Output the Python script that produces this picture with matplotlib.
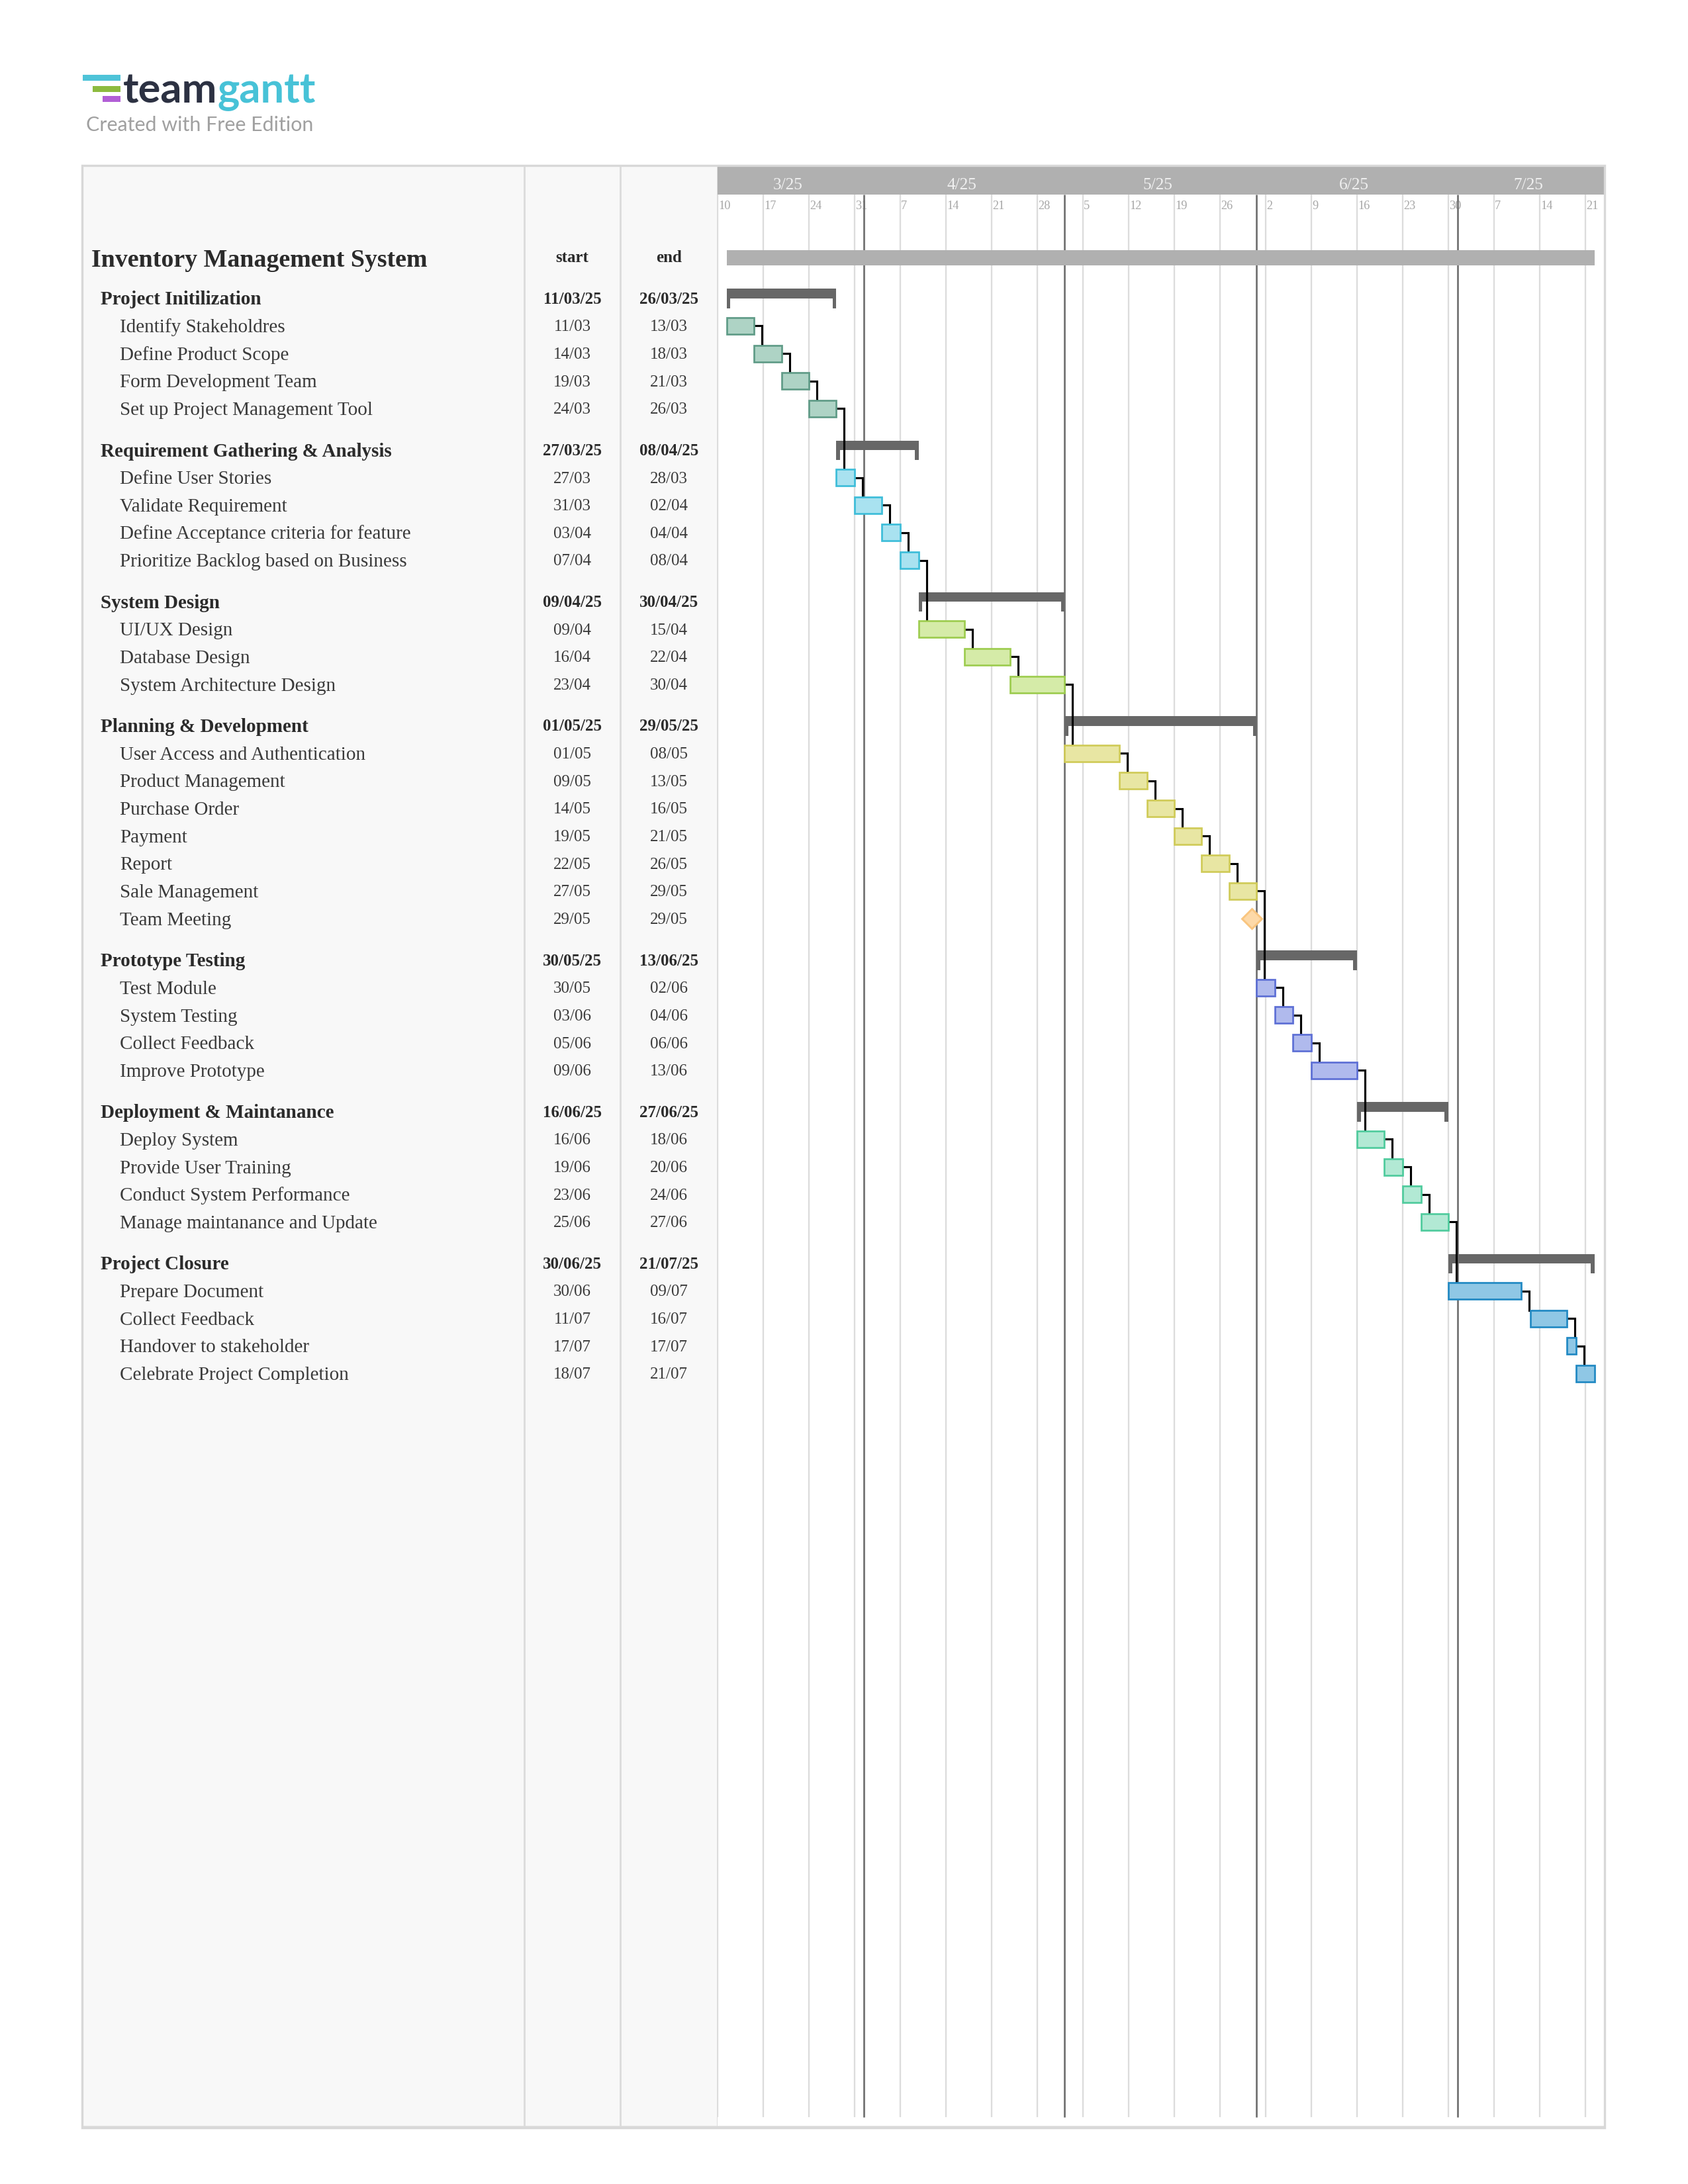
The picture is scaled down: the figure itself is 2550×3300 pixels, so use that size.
import numpy as np
import pandas as pd
import matplotlib
matplotlib.use("Agg")
import matplotlib.pyplot as plt
from matplotlib.patches import Rectangle


FIG_W, FIG_H = 2550, 3300
SERIF = "Liberation Serif"

PROJECT_TITLE = "Inventory Management System"
CHART_START = "2025-03-10"
CHART_WORKDAYS = 97.1

GROUP_NAMES = [
    "Project Initilization",
    "Requirement Gathering & Analysis",
    "System Design",
    "Planning & Development",
    "Prototype Testing",
    "Deployment & Maintanance",
    "Project Closure",
]
GROUP_STARTS = ["2025-03-11", "2025-03-27", "2025-04-09", "2025-05-01", "2025-05-30", "2025-06-16", "2025-06-30"]
GROUP_ENDS = ["2025-03-26", "2025-04-08", "2025-04-30", "2025-05-29", "2025-06-13", "2025-06-27", "2025-07-21"]
GROUP_FILLS = ["#aed3c5", "#a9e2f0", "#d5eba8", "#e8e6a3", "#b0baed", "#b2e9d4", "#8fc7e5"]
GROUP_EDGES = ["#5f9b87", "#3dbdd9", "#9dcc4f", "#d0cb58", "#5d6fd5", "#4fcb9d", "#2189c3"]

TASK_GROUP = [0, 0, 0, 0, 1, 1, 1, 1, 2, 2, 2, 3, 3, 3, 3, 3, 3, 3, 4, 4, 4, 4, 5, 5, 5, 5, 6, 6, 6, 6]
TASK_NAMES = [
    "Identify Stakeholdres",
    "Define Product Scope",
    "Form Development Team",
    "Set up Project Management Tool",
    "Define User Stories",
    "Validate Requirement",
    "Define Acceptance criteria for feature",
    "Prioritize Backlog based on Business",
    "UI/UX Design",
    "Database Design",
    "System Architecture Design",
    "User Access and Authentication",
    "Product Management",
    "Purchase Order",
    "Payment",
    "Report",
    "Sale Management",
    "Team Meeting",
    "Test Module",
    "System Testing",
    "Collect Feedback",
    "Improve Prototype",
    "Deploy System",
    "Provide User Training",
    "Conduct System Performance",
    "Manage maintanance and Update",
    "Prepare Document",
    "Collect Feedback",
    "Handover to stakeholder",
    "Celebrate Project Completion",
]
TASK_STARTS = [
    "2025-03-11", "2025-03-14", "2025-03-19", "2025-03-24",
    "2025-03-27", "2025-03-31", "2025-04-03", "2025-04-07",
    "2025-04-09", "2025-04-16", "2025-04-23",
    "2025-05-01", "2025-05-09", "2025-05-14", "2025-05-19", "2025-05-22", "2025-05-27", "2025-05-29",
    "2025-05-30", "2025-06-03", "2025-06-05", "2025-06-09",
    "2025-06-16", "2025-06-19", "2025-06-23", "2025-06-25",
    "2025-06-30", "2025-07-11", "2025-07-17", "2025-07-18",
]
TASK_ENDS = [
    "2025-03-13", "2025-03-18", "2025-03-21", "2025-03-26",
    "2025-03-28", "2025-04-02", "2025-04-04", "2025-04-08",
    "2025-04-15", "2025-04-22", "2025-04-30",
    "2025-05-08", "2025-05-13", "2025-05-16", "2025-05-21", "2025-05-26", "2025-05-29", "2025-05-29",
    "2025-06-02", "2025-06-04", "2025-06-06", "2025-06-13",
    "2025-06-18", "2025-06-20", "2025-06-24", "2025-06-27",
    "2025-07-09", "2025-07-16", "2025-07-17", "2025-07-21",
]
MILESTONES = ["Team Meeting"]

MONTH_STARTS = ["2025-04-01", "2025-05-01", "2025-06-01", "2025-07-01"]
MONTH_LABELS = ["3/25", "4/25", "5/25", "6/25", "7/25"]

# page layout (pixels of the 2550x3300 page)
TABLE_LEFT, TABLE_RIGHT, TABLE_TOP, TABLE_BOTTOM = 124, 2424, 250, 3215
COL_START_EDGE, COL_END_EDGE, CHART_LEFT = 792, 937, 1084
ROW_PX = 41.66

TITLE_ROW = 3.38
FIRST_ROW = 4.82


def workday(date: str) -> float:
    rolled = np.busday_offset(date, 0, roll="backward")
    return float(np.busday_count(CHART_START, rolled))


def fx(px: float) -> float:
    return px / FIG_W


def fy(py: float) -> float:
    return 1 - py / FIG_H


def layout_rows() -> tuple[list[float], list[float]]:
    group_rows, task_rows = [], []
    row = FIRST_ROW
    for g in range(len(GROUP_NAMES)):
        group_rows.append(row)
        for tg in TASK_GROUP:
            if tg == g:
                row += 1
                task_rows.append(row)
        row += 1.5
    return group_rows, task_rows


def draw_logo(fig: plt.Figure) -> None:
    icon = [(125, 182, 113, 122, "#4ec3d8"), (140, 182, 130, 139, "#8dbb3f"), (155, 182, 145, 154, "#b25fd6")]
    for x0, x1, y0, y1, color in icon:
        fig.add_artist(Rectangle((fx(x0), fy(y1)), fx(x1) - fx(x0), fy(y0) - fy(y1),
                                 transform=fig.transFigure, color=color, lw=0))
    team = fig.text(fx(186), fy(155), "team", fontsize=15.2, fontweight="bold", family="Lato",
                    color="#2c3142", va="baseline", ha="left")
    renderer = fig.canvas.get_renderer()
    team_right = team.get_window_extent(renderer).x1 / FIG_W
    fig.text(team_right, fy(155), "gantt", fontsize=15.2, fontweight="bold", family="Lato",
             color="#47c2d7", va="baseline", ha="left")
    fig.text(fx(130), fy(198), "Created with Free Edition", fontsize=7.3, family="Lato",
             color="#a0a0a0", va="baseline", ha="left")


def main() -> None:
    fig = plt.figure(figsize=(FIG_W / 300, FIG_H / 300), dpi=300)
    fig.patch.set_facecolor("white")
    draw_logo(fig)

    y_bottom = (TABLE_BOTTOM - TABLE_TOP) / ROW_PX
    band_bottom = (294 - TABLE_TOP) / ROW_PX
    grid_bottom = (3199 - TABLE_TOP) / ROW_PX
    height = fy(TABLE_TOP) - fy(TABLE_BOTTOM)

    group_rows, task_rows = layout_rows()

    # ---- left table panel
    tbl = fig.add_axes([fx(TABLE_LEFT), fy(TABLE_BOTTOM), fx(CHART_LEFT) - fx(TABLE_LEFT), height])
    tbl.set_facecolor("#f8f8f8")
    tbl.set_xlim(0, CHART_LEFT - TABLE_LEFT)
    tbl.set_ylim(y_bottom, 0)
    tbl.set_xticks([])
    tbl.set_yticks([])
    for spine in tbl.spines.values():
        spine.set_visible(False)
    for edge in (COL_START_EDGE, COL_END_EDGE, CHART_LEFT):
        tbl.axvline(edge - TABLE_LEFT, color="#dcdcdc", lw=0.7)

    start_x = (COL_START_EDGE + COL_END_EDGE) / 2 - TABLE_LEFT
    end_x = (COL_END_EDGE + CHART_LEFT) / 2 - TABLE_LEFT

    tbl.text(138 - TABLE_LEFT, TITLE_ROW + 0.30, PROJECT_TITLE, family=SERIF, fontsize=9.1,
             fontweight="bold", color="#2b2b2b", va="baseline")
    for label, x in (("start", start_x), ("end", end_x)):
        tbl.text(x, TITLE_ROW + 0.12, label, family=SERIF, fontsize=6, fontweight="bold",
                 color="#2b2b2b", ha="center", va="baseline")

    for g, row in enumerate(group_rows):
        tbl.text(152 - TABLE_LEFT, row + 0.23, GROUP_NAMES[g], family=SERIF, fontsize=7,
                 fontweight="bold", color="#2b2b2b", va="baseline")
        for date, x in ((GROUP_STARTS[g], start_x), (GROUP_ENDS[g], end_x)):
            tbl.text(x, row + 0.19, pd.Timestamp(date).strftime("%d/%m/%y"), family=SERIF,
                     fontsize=6, fontweight="bold", color="#2b2b2b", ha="center", va="baseline")

    for t, row in enumerate(task_rows):
        tbl.text(181 - TABLE_LEFT, row + 0.23, TASK_NAMES[t], family=SERIF, fontsize=7,
                 color="#3a3a3a", va="baseline")
        for date, x in ((TASK_STARTS[t], start_x), (TASK_ENDS[t], end_x)):
            tbl.text(x, row + 0.19, pd.Timestamp(date).strftime("%d/%m"), family=SERIF,
                     fontsize=6, color="#3a3a3a", ha="center", va="baseline")

    # ---- gantt chart
    ax = fig.add_axes([fx(CHART_LEFT), fy(TABLE_BOTTOM), fx(TABLE_RIGHT) - fx(CHART_LEFT), height])
    ax.set_xlim(0, CHART_WORKDAYS)
    ax.set_ylim(y_bottom, 0)
    ax.set_xticks([])
    ax.set_yticks([])
    for spine in ax.spines.values():
        spine.set_visible(False)

    ax.axhspan(0, band_bottom, color="#b0b0b0", lw=0, zorder=1)

    mondays = pd.date_range(CHART_START, periods=20, freq="W-MON")
    for day in mondays:
        x = workday(day.strftime("%Y-%m-%d"))
        ax.vlines(x, band_bottom, grid_bottom, color="#dcdcdc", lw=0.55, zorder=1)
        ax.text(x + 0.08, 1.58, str(day.day), family=SERIF, fontsize=4.4, color="#a6a6a6",
                ha="left", va="baseline", zorder=2)

    month_x = [workday(d) for d in MONTH_STARTS]
    for x in month_x:
        ax.vlines(x, band_bottom, grid_bottom, color="#707070", lw=0.65, zorder=2)
    bounds = [0.0] + month_x + [CHART_WORKDAYS]
    for i, label in enumerate(MONTH_LABELS):
        ax.text((bounds[i] + bounds[i + 1]) / 2 - 0.3, 0.86, label, family=SERIF, fontsize=6.1,
                color="#f0f0f0", ha="center", va="baseline", zorder=2)

    # overall project bar
    proj_start = min(workday(d) for d in GROUP_STARTS)
    proj_end = max(workday(d) for d in GROUP_ENDS) + 1
    ax.barh(TITLE_ROW - 0.03, proj_end - proj_start, left=proj_start, height=0.55,
            color="#b0b0b0", lw=0, zorder=3)

    # group summary brackets
    leg_w = 0.4
    for g, row in enumerate(group_rows):
        gs = workday(GROUP_STARTS[g])
        ge = workday(GROUP_ENDS[g]) + 1
        ax.barh(row - 0.17, ge - gs, left=gs, height=0.35, color="#676767", lw=0, zorder=4)
        for left in (gs, ge - leg_w):
            ax.barh(row + 0.01, leg_w, left=left, height=0.70, color="#676767", lw=0, zorder=4)

    # tasks
    bar_h = 0.6
    for t, row in enumerate(task_rows):
        s = workday(TASK_STARTS[t])
        e = workday(TASK_ENDS[t]) + 1
        g = TASK_GROUP[t]
        if TASK_NAMES[t] in MILESTONES:
            ax.plot(s + 0.5, row, marker="D", ms=5.2, mfc="#fdd9a8", mec="#f9c57f", mew=0.7, zorder=6)
        else:
            ax.barh(row, e - s, left=s, height=bar_h, color=GROUP_FILLS[g], edgecolor=GROUP_EDGES[g],
                    lw=0.65, zorder=6)

    # dependency connectors between consecutive tasks
    linked = [t for t in range(len(TASK_NAMES)) if TASK_NAMES[t] not in MILESTONES]
    for a, b in zip(linked[:-1], linked[1:]):
        x_end = workday(TASK_ENDS[a]) + 1
        xv = x_end + 0.87
        ax.plot([x_end, xv, xv], [task_rows[a], task_rows[a], task_rows[b] - bar_h / 2],
                color="black", lw=0.75, solid_joinstyle="miter", zorder=5)

    # outer table border
    fig.add_artist(Rectangle((fx(TABLE_LEFT), fy(TABLE_BOTTOM)), fx(TABLE_RIGHT) - fx(TABLE_LEFT), height,
                             transform=fig.transFigure, fill=False, ec="#d8d8d8", lw=0.8))
    ax.axhline(y_bottom, color="#dcdcdc", lw=1.6, zorder=7)
    tbl.axhline(y_bottom, color="#dcdcdc", lw=1.6, zorder=7)

    fig.savefig("out.png", dpi=300)
    plt.close(fig)


if __name__ == "__main__":
    main()
